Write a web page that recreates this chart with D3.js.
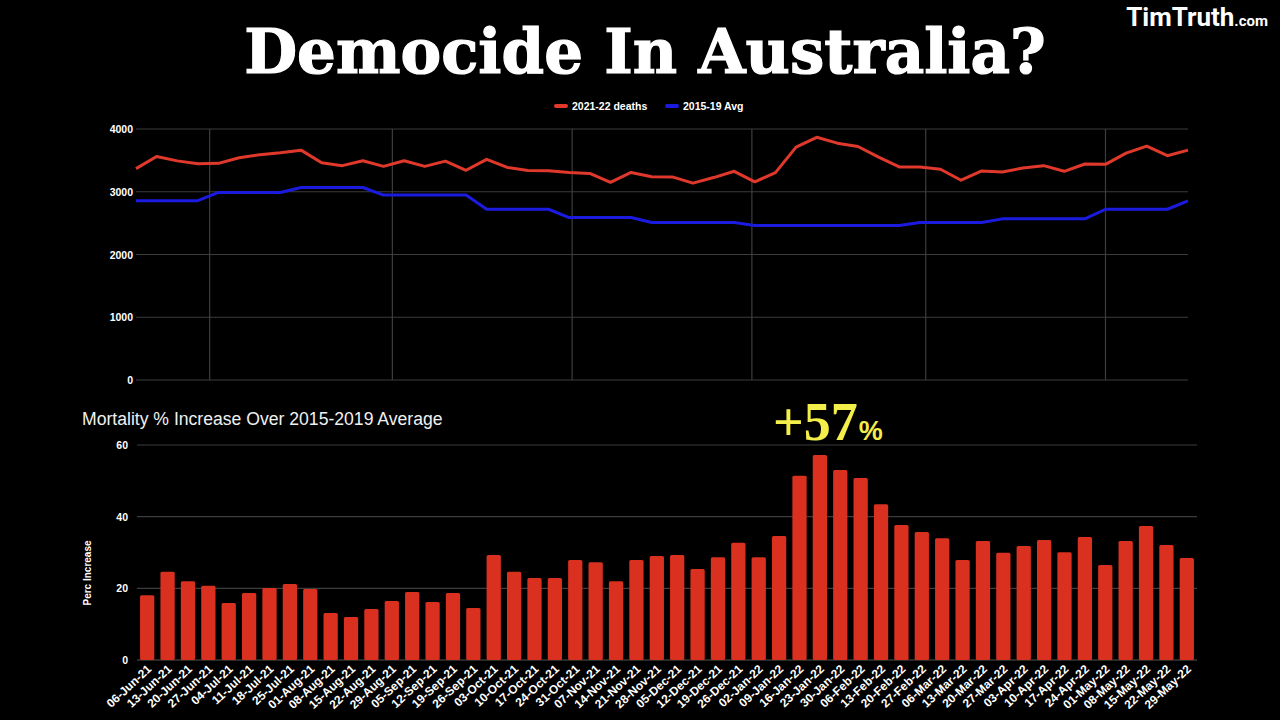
<!DOCTYPE html>
<html>
<head>
<meta charset="utf-8">
<script src="https://cdn.jsdelivr.net/npm/d3@7"></script>
<style>
html,body{margin:0;padding:0;background:#000;}
svg{display:block;}
</style>
</head>
<body>
<svg id="chart" width="1280" height="720"></svg>
<script>
// ---------- DATA ----------
const weeks = ["06-Jun-21","13-Jun-21","20-Jun-21","27-Jun-21","04-Jul-21","11-Jul-21","18-Jul-21","25-Jul-21",
"01-Aug-21","08-Aug-21","15-Aug-21","22-Aug-21","29-Aug-21","05-Sep-21","12-Sep-21","19-Sep-21","26-Sep-21",
"03-Oct-21","10-Oct-21","17-Oct-21","24-Oct-21","31-Oct-21","07-Nov-21","14-Nov-21","21-Nov-21","28-Nov-21",
"05-Dec-21","12-Dec-21","19-Dec-21","26-Dec-21","02-Jan-22","09-Jan-22","16-Jan-22","23-Jan-22","30-Jan-22",
"06-Feb-22","13-Feb-22","20-Feb-22","27-Feb-22","06-Mar-22","13-Mar-22","20-Mar-22","27-Mar-22","03-Apr-22",
"10-Apr-22","17-Apr-22","24-Apr-22","01-May-22","08-May-22","15-May-22","22-May-22","29-May-22"];

const deaths2122 = [3368,3563,3492,3445,3453,3542,3590,3620,3663,3463,3416,3495,3405,3495,3405,3488,3342,
3516,3387,3340,3334,3308,3292,3150,3308,3240,3237,3137,3226,3326,3158,3305,3711,3868,3774,3721,3553,3395,
3395,3358,3184,3332,3316,3379,3416,3326,3442,3437,3616,3726,3574,3663];

const avg1519 = [2858,2858,2858,2858,2989,2989,2989,2989,3068,3068,3068,3068,2947,2947,2947,2947,2947,
2721,2721,2721,2721,2589,2589,2589,2589,2511,2511,2511,2511,2511,2463,2463,2463,2463,2463,2463,2463,2463,
2511,2511,2511,2511,2568,2568,2568,2568,2568,2721,2721,2721,2721,2853];

const pctIncrease = [18.1,24.6,22.0,20.7,15.9,18.7,20.1,21.2,19.8,13.1,12.0,14.2,16.5,19.0,16.2,18.7,14.5,
29.3,24.6,22.9,22.9,27.9,27.3,22.0,27.9,29.0,29.3,25.4,28.7,32.7,28.7,34.6,51.4,57.2,53.0,50.8,43.5,37.7,
35.7,34.0,27.9,33.2,29.9,31.8,33.5,30.1,34.3,26.5,33.2,37.4,32.1,28.5];

const deathTicks = [0,1000,2000,3000,4000];
const pctTicks = [0,20,40,60];
const seriesNames = ["2021-22 deaths","2015-19 Avg"];

// ---------- STYLE ----------
const RED = "#e0392c", BLUE = "#1b1be0", BAR = "#d9301f", GRID = "#3d3d3d";
const SANS = "'Liberation Sans', Arial, sans-serif";
const svg = d3.select("#chart");
svg.append("rect").attr("width",1280).attr("height",720).attr("fill","#000");

// Title
svg.append("text").attr("x",645).attr("y",73).attr("text-anchor","middle")
  .attr("font-family","'DejaVu Serif', serif").attr("font-weight","bold").attr("font-size",61)
  .attr("fill","#fff").attr("stroke","#fff").attr("stroke-width",1.2)
  .text("Democide In Australia?");

// Logo
const logo = svg.append("text").attr("x",1268).attr("y",26).attr("text-anchor","end")
  .attr("font-family","Roboto, sans-serif").attr("font-weight","bold").attr("fill","#fff");
logo.append("tspan").attr("font-size",26).text("TimTruth");
logo.append("tspan").attr("font-size",15).text(".com");

// ---------- TOP LINE CHART ----------
const parse = d3.timeParse("%d-%b-%y");
const dates = weeks.map(parse);
const tm = {l:136, r:1188, t:129, b:380};
const xT = d3.scaleTime().domain(d3.extent(dates)).range([tm.l, tm.r]);
const yT = d3.scaleLinear().domain([0,4000]).range([tm.b, tm.t]);

const gT = svg.append("g");
gT.selectAll("line.h").data(deathTicks).join("line")
  .attr("x1",tm.l).attr("x2",tm.r).attr("y1",d=>yT(d)).attr("y2",d=>yT(d))
  .attr("stroke",GRID).attr("stroke-width",1.2);
gT.selectAll("line.v").data(xT.ticks(d3.timeMonth.every(2))).join("line")
  .attr("x1",d=>xT(d)).attr("x2",d=>xT(d)).attr("y1",tm.t).attr("y2",tm.b)
  .attr("stroke",GRID).attr("stroke-width",1.2);
gT.selectAll("text.yl").data(deathTicks).join("text")
  .attr("x",tm.l-3).attr("y",d=>yT(d)+4).attr("text-anchor","end")
  .attr("font-family",SANS).attr("font-weight","bold")
  .attr("font-size",10.5).attr("fill","#fff").text(d=>d);

const line = d3.line().x((d,i)=>xT(dates[i])).y(d=>yT(d));
gT.append("path").datum(avg1519).attr("d",line).attr("fill","none")
  .attr("stroke",BLUE).attr("stroke-width",3).attr("stroke-linejoin","round");
gT.append("path").datum(deaths2122).attr("d",line).attr("fill","none")
  .attr("stroke",RED).attr("stroke-width",3).attr("stroke-linejoin","round");

// legend
const leg = svg.append("g").attr("font-family",SANS)
  .attr("font-weight","bold").attr("font-size",10.5).attr("fill","#fff");
const legItems = [{name:seriesNames[0],c:RED,x:555},{name:seriesNames[1],c:BLUE,x:666}];
legItems.forEach(it=>{
  leg.append("line").attr("x1",it.x+1).attr("x2",it.x+11).attr("y1",106).attr("y2",106)
    .attr("stroke",it.c).attr("stroke-width",4).attr("stroke-linecap","round");
  leg.append("text").attr("x",it.x+17).attr("y",110).text(it.name);
});

// ---------- BOTTOM BAR CHART ----------
const bm = {l:137, r:1197, t:445, b:660};
const xB = d3.scaleBand().domain(weeks).range([bm.l, bm.r]).paddingInner(0.3).paddingOuter(0.15);
const yB = d3.scaleLinear().domain([0,60]).range([bm.b, bm.t]);
const gB = svg.append("g");

svg.append("text").attr("x",82).attr("y",425)
  .attr("font-family",SANS).attr("font-size",17.6)
  .attr("fill","#f0f0f0").text("Mortality % Increase Over 2015-2019 Average");

gB.selectAll("line.h").data(pctTicks).join("line")
  .attr("x1",bm.l).attr("x2",bm.r).attr("y1",d=>yB(d)).attr("y2",d=>yB(d))
  .attr("stroke",d=>d===0?"#555":GRID).attr("stroke-width",1.2);
gB.selectAll("text.yl").data(pctTicks).join("text")
  .attr("x",bm.l-9).attr("y",d=>yB(d)+4).attr("text-anchor","end")
  .attr("font-family",SANS).attr("font-weight","bold")
  .attr("font-size",10.5).attr("fill","#fff").text(d=>d);

svg.append("text").attr("transform","translate(91,573) rotate(-90)").attr("text-anchor","middle")
  .attr("font-family",SANS).attr("font-weight","bold")
  .attr("font-size",10).attr("fill","#fff").text("Perc Increase");

gB.selectAll("rect.bar").data(pctIncrease).join("rect")
  .attr("x",(d,i)=>xB(weeks[i])).attr("width",xB.bandwidth())
  .attr("y",d=>yB(d)).attr("height",d=>yB(0)-yB(d))
  .attr("fill",BAR).attr("rx",1.5);

gB.selectAll("text.xl").data(weeks).join("text")
  .attr("transform",d=>`translate(${xB(d)+xB.bandwidth()/2+5},${bm.b+10}) rotate(-43)`)
  .attr("text-anchor","end")
  .attr("font-family",SANS).attr("font-weight","bold")
  .attr("font-size",12).attr("fill","#fff").text(d=>d);

// annotation
const maxI = pctIncrease.indexOf(d3.max(pctIncrease));
const ann = svg.append("text").attr("x",773).attr("y",440)
  .attr("font-family","'Liberation Serif', serif").attr("font-weight","bold")
  .attr("fill","#f4ee4a");
ann.append("tspan").attr("font-size",54).text("+" + Math.round(d3.max(pctIncrease)));
ann.append("tspan").attr("font-size",27).attr("font-family",SANS).attr("dx",1).text("%");
</script>
</body>
</html>
